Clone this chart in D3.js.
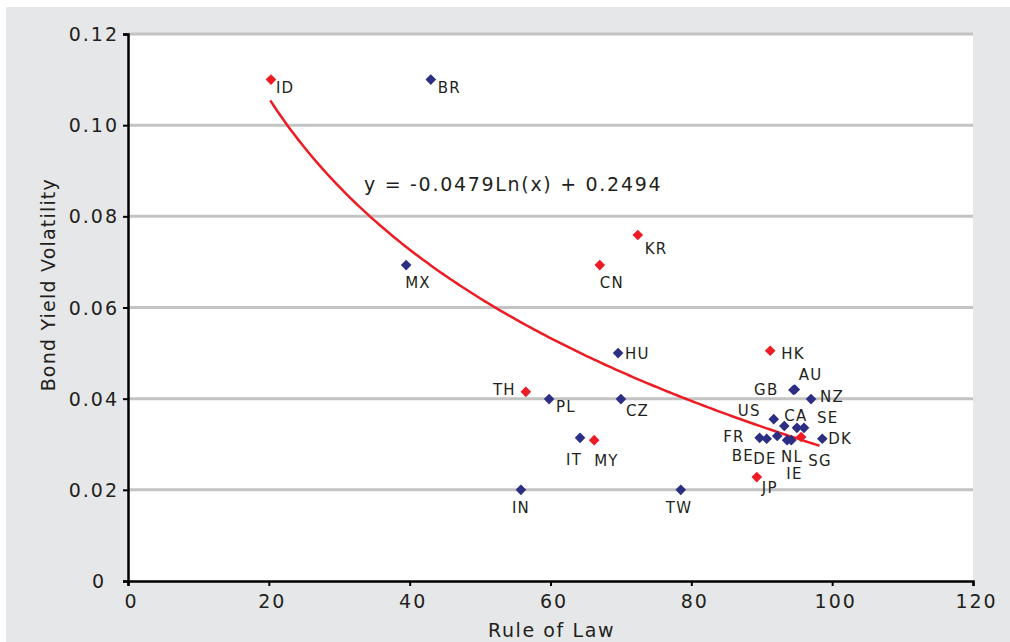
<!DOCTYPE html>
<html>
<head>
<meta charset="utf-8">
<style>
  body { margin: 0; background: #fff; }
  svg { display: block; }
  text { font-family: "DejaVu Sans", Verdana, sans-serif; fill: #231f20; }
</style>
</head>
<body>
<svg width="1010" height="642"></svg>
<script src="https://d3js.org/d3.v7.min.js"></script>
<script>
// country codes, rule of law score, bond yield volatility, marker group
const codes = ["ID", "BR", "MX", "KR", "CN", "HU", "HK", "TH", "PL", "CZ", "IT", "MY", "IN", "TW", "JP",
               "NZ", "AU", "GB", "US", "CA", "", "SE", "FR", "BE", "DE", "NL", "IE", "SG", "DK"];
const ruleOfLaw = [20.3, 43.0, 39.5, 72.4, 67.0, 69.6, 91.2, 56.5, 59.8, 70.0, 64.2, 66.2, 55.8, 78.5, 89.3,
                   97.0, 94.7, 94.5, 91.7, 93.2, 95.0, 96.0, 89.7, 90.7, 92.2, 93.6, 94.2, 95.6, 98.6];
const volatility = [0.110, 0.110, 0.0693, 0.0759, 0.0693, 0.0500, 0.0505, 0.0415, 0.0399, 0.0399, 0.0314, 0.0309, 0.0200, 0.0200, 0.0228,
                    0.0399, 0.0420, 0.0419, 0.0355, 0.0340, 0.0336, 0.0336, 0.0314, 0.0312, 0.0318, 0.0309, 0.0309, 0.0316, 0.0312];
const group = ["a", "b", "b", "a", "a", "b", "a", "a", "b", "b", "b", "a", "b", "b", "a",
               "b", "b", "b", "b", "b", "b", "b", "b", "b", "b", "b", "b", "a", "b"];
const xTicks = [0, 20, 40, 60, 80, 100, 120];
const yTicks = [0, 0.02, 0.04, 0.06, 0.08, 0.10, 0.12];
// trend line as printed on the chart
const trendA = -0.0479, trendB = 0.2494;
const trendLabel = "y = -0.0479Ln(x) + 0.2494";

// label placement relative to its marker: [dx, dy, anchor]
const labelPos = {
  ID: [5, 13, "start"], BR: [7, 13, "start"], MX: [-1, 23, "start"], KR: [7, 19, "start"],
  CN: [0, 23, "start"], HU: [7, 6, "start"], HK: [11, 8, "start"], TH: [-10, 3, "end"],
  PL: [7, 13, "start"], CZ: [5, 17, "start"], IT: [-14, 27, "start"], MY: [0, 26, "start"],
  IN: [-9, 23, "start"], TW: [-15, 23, "start"], JP: [5, 16, "start"], NZ: [9, 3, "start"],
  AU: [4, -10, "start"], GB: [-15, 5, "end"], US: [-13, -3, "end"], CA: [0, -5, "start"],
  SE: [13, -5, "start"], FR: [-15, 4, "end"], BE: [-35, 22, "start"], DE: [-24, 28, "start"],
  NL: [-6, 22, "start"], IE: [-5, 39, "start"], SG: [7, 29, "start"], DK: [6, 5, "start"]
};

const svg = d3.select("svg");
const margin = { left: 128, right: 37, top: 34, bottom: 61 };
const width = 1010, height = 642;

// panel background
svg.append("rect").attr("x", 6).attr("y", 7).attr("width", width - 6).attr("height", height - 7)
  .attr("fill", "#e6e7e8");
svg.append("rect").attr("x", margin.left).attr("y", margin.top)
  .attr("width", width - margin.left - margin.right).attr("height", height - margin.top - margin.bottom)
  .attr("fill", "#fff");

const x = d3.scaleLinear().domain([0, 120]).range([margin.left, width - margin.right]);
const y = d3.scaleLinear().domain([0, 0.12]).range([height - margin.bottom, margin.top]);

// gridlines
svg.append("g").selectAll("line").data(yTicks.slice(1)).join("line")
  .attr("x1", margin.left).attr("x2", width - margin.right)
  .attr("y1", d => y(d)).attr("y2", d => y(d))
  .attr("stroke", "#c3c3c3").attr("stroke-width", 3);

// axes
const yAxis = svg.append("g").attr("transform", `translate(${margin.left},0)`)
  .call(d3.axisLeft(y).tickValues(yTicks).tickFormat(d => d === 0 ? "0" : d3.format(".2f")(d)).tickSize(5).tickPadding(4));
const xAxis = svg.append("g").attr("transform", `translate(0,${height - margin.bottom})`)
  .call(d3.axisBottom(x).tickValues(xTicks).tickSize(5).tickPadding(7));
[xAxis, yAxis].forEach(a => {
  a.select(".domain").attr("stroke", "#000").attr("stroke-width", 2.5);
  a.selectAll(".tick line").attr("stroke", "#000").attr("stroke-width", 2);
  a.selectAll(".tick text").attr("font-size", 19).attr("fill", "#231f20")
    .style("font-family", "'DejaVu Sans', Verdana, sans-serif")
    .style("letter-spacing", "2px");
});
yAxis.selectAll(".tick text").attr("dy", "0.35em");
// the lone "0" sits further left in the original
yAxis.selectAll(".tick text").filter(d => d === 0).attr("dx", -13);
xAxis.selectAll(".tick text").attr("dy", "0.8em").attr("dx", 3);

// axis titles
svg.append("text").attr("x", x(60) + 1).attr("y", 637).attr("text-anchor", "middle")
  .attr("font-size", 19).style("letter-spacing", "1.6px").text("Rule of Law");
svg.append("text").attr("transform", `translate(55,${y(0.065)}) rotate(-90)`)
  .attr("text-anchor", "middle").attr("font-size", 19).style("letter-spacing", "1.2px")
  .text("Bond Yield Volatility");

// trend line
const trendX = d3.range(20.2, 98.7, 0.5);
svg.append("path").datum(trendX)
  .attr("d", d3.line().x(d => x(d)).y(d => y(trendA * Math.log(d) + trendB)))
  .attr("fill", "none").attr("stroke", "#ed1c24").attr("stroke-width", 2.5);
svg.append("text").attr("x", 364).attr("y", 191).attr("font-size", 19)
  .style("letter-spacing", "1.7px").text(trendLabel);

// markers
const pts = codes.map((c, i) => ({ c, x: ruleOfLaw[i], y: volatility[i], g: group[i] }));
const diamond = d3.symbol().type(d3.symbolDiamond2).size(72);
svg.append("g").selectAll("path").data(pts).join("path")
  .attr("transform", d => `translate(${x(d.x)},${y(d.y)})`)
  .attr("d", diamond)
  .attr("fill", d => d.g === "a" ? "#ed1c24" : "#2b2e83");

// labels
svg.append("g").selectAll("text").data(pts.filter(d => labelPos[d.c])).join("text")
  .attr("x", d => x(d.x) + labelPos[d.c][0])
  .attr("y", d => y(d.y) + labelPos[d.c][1])
  .attr("text-anchor", d => labelPos[d.c][2])
  .attr("font-size", 15).style("letter-spacing", "1.2px").text(d => d.c);
</script>
</body>
</html>
